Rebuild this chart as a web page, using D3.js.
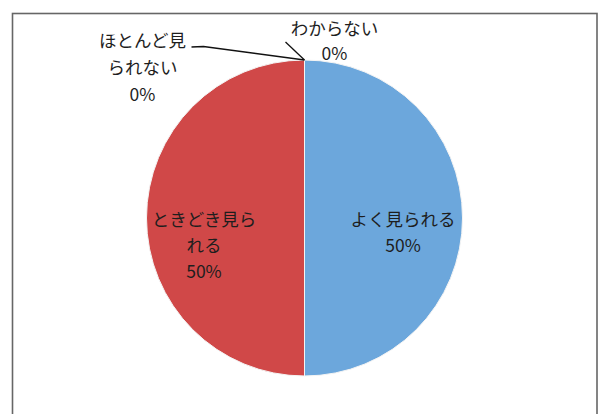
<!DOCTYPE html>
<html><head><meta charset="utf-8">
<script src="https://cdn.jsdelivr.net/npm/d3@7"></script>
<style>body{margin:0;background:#fff}svg{display:block}</style>
</head><body>
<svg id="c" width="600" height="414"></svg>
<script>
const categories = ["よく見られる", "ときどき見られる", "ほとんど見られない", "わからない"];
const values = [50, 50, 0, 0];
const labelLines = [["よく見られる"], ["ときどき見ら", "れる"], ["ほとんど見", "られない"], ["わからない"]];
const colors = ["#6ca7dc", "#d04848", "#9bbb59", "#8064a2"];

const svg = d3.select("#c");
svg.append("rect").attr("x", 12.5).attr("y", 13.5).attr("width", 584.5).attr("height", 420)
  .attr("fill", "#fff").attr("stroke", "#666").attr("stroke-width", 1.6);

const cx = 304.5, cy = 218, r = 158;
const g = svg.append("g").attr("transform", `translate(${cx},${cy})`);
const total = d3.sum(values);
const pie = d3.pie().sort(null).value(d => d)(values);
const arc = d3.arc().innerRadius(0).outerRadius(r);
g.selectAll("path.slice").data(pie).join("path").attr("class", "slice")
  .attr("d", arc).attr("fill", (d, i) => colors[i])
  .attr("stroke", "#f4f4f4").attr("stroke-width", 1);

const fmt = v => Math.round(v / total * 100) + "%";
const font = "'Noto Sans CJK JP', sans-serif";
const lh = 26;
const labelArc = d3.arc().innerRadius(r * 0.63).outerRadius(r * 0.63);

function drawLabel(lines, x, y, spacing) {
  const t = g.append("text").attr("font-family", font).attr("font-size", 17.5)
    .attr("fill", "#1e1e1e").attr("text-anchor", "middle");
  lines.forEach((s, k) => {
    t.append("tspan").attr("x", x).attr("y", y + k * spacing).attr("dy", "0.35em").text(s);
  });
}

pie.forEach((d, i) => {
  if (values[i] > 0) {
    const [x, y] = labelArc.centroid(d);
    drawLabel(labelLines[i].concat([fmt(values[i])]), x - 1, y + 2, lh);
  }
});

// zero slices sit at the top of the pie; labels outside with leader lines
const pieTop = [0, -r];
// ほとんど見られない
drawLabel(labelLines[2].concat([fmt(values[2])]), -162, -177, 27);
g.append("path").attr("d", d3.line()([[-113, -171], [-101, -171.5], pieTop]))
  .attr("fill", "none").attr("stroke", "#111").attr("stroke-width", 1.3);
// わからない
drawLabel(labelLines[3].concat([fmt(values[3])]), 30, -189, 25);
g.append("path").attr("d", d3.line()([[-19, -176], pieTop]))
  .attr("fill", "none").attr("stroke", "#111").attr("stroke-width", 1.3);
</script>
</body></html>
